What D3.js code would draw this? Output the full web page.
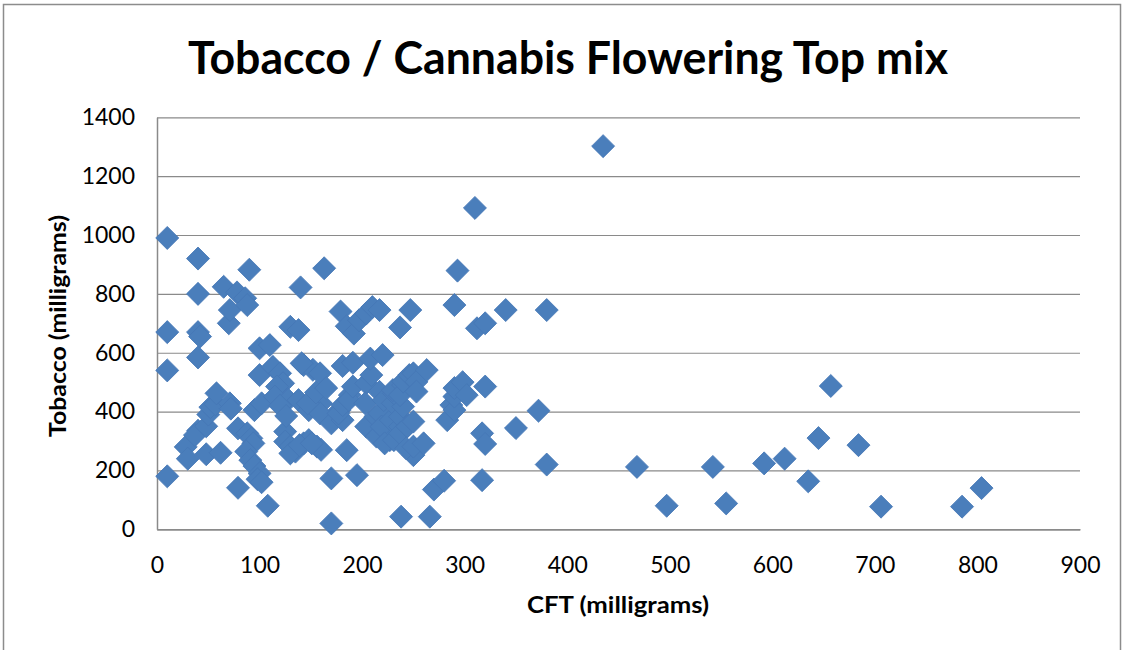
<!DOCTYPE html>
<html>
<head>
<meta charset="utf-8">
<script src="https://cdn.jsdelivr.net/npm/d3@7"></script>
<style>
  body { margin: 0; background: #fff; }
  text { font-family: Lato, "Open Sans", sans-serif; }
</style>
</head>
<body>
<script>
var width = 1129, height = 650;

// CFT (mg) on x, Tobacco (mg) on y
var cft = [
  10, 10, 10, 10, 28, 30, 40, 40, 40, 42, 40, 40, 37, 48, 50, 52, 57, 58, 48, 62,
  65, 70, 71, 78, 86, 88, 90, 71, 72, 79, 88, 92, 94, 87, 91, 95, 100, 98, 102, 79,
  95, 102, 108, 100, 110, 100, 113, 120, 123, 117, 115, 128, 125, 125, 135, 130, 130, 143, 138, 148,
  148, 139, 143, 152, 130, 138, 140, 120, 156, 160, 151, 159, 160, 159, 147, 163, 141, 155, 165, 170,
  178, 181, 177, 181, 188, 187, 185, 170, 195, 170, 181, 191, 191, 204, 209, 204, 214, 227, 203, 213,
  217, 219, 217, 221, 208, 220, 222, 228, 231, 237, 230, 237, 237, 244, 250, 240, 231, 230, 240, 237,
  240, 246, 250, 253, 263, 253, 250, 243, 250, 260, 238, 266, 270, 280, 237, 247, 290, 293, 310, 435,
  283, 287, 290, 290, 290, 298, 302, 320, 317, 320, 317, 312, 320, 340, 380, 372, 350, 380, 468, 497,
  542, 555, 592, 612, 635, 645, 657, 684, 706, 785, 804, 179, 185, 192, 197, 204, 210, 217, 126
];
var tobacco = [
  990, 670, 540, 180, 280, 240, 920, 800, 670, 655, 584, 335, 320, 350, 390, 415, 425, 462, 255, 260,
  824, 700, 745, 805, 785, 762, 882, 428, 410, 343, 326, 309, 292, 264, 235, 215, 190, 170, 160, 141,
  405, 428, 80, 615, 626, 524, 552, 530, 496, 485, 451, 440, 332, 298, 264, 281, 258, 292, 439, 405,
  303, 286, 558, 542, 688, 677, 822, 420, 281, 270, 292, 530, 428, 394, 428, 887, 564, 465, 480, 360,
  405, 371, 394, 422, 456, 439, 269, 173, 184, 20, 555, 566, 485, 496, 524, 349, 315, 303, 428, 383,
  394, 349, 467, 439, 580, 592, 292, 371, 303, 349, 428, 383, 326, 349, 366, 417, 462, 473, 490, 456,
  502, 524, 530, 501, 541, 468, 252, 275, 281, 292, 43, 43, 135, 165, 686, 745, 762, 879, 1092, 1302,
  371, 422, 405, 451, 480, 500, 456, 485, 326, 290, 167, 683, 700, 745, 745, 403, 344, 220, 212, 80,
  212, 88, 224, 240, 163, 310, 487, 286, 77, 77, 140, 740, 690, 665, 710, 733, 755, 745, 385
];

var xTicks = [0, 100, 200, 300, 400, 500, 600, 700, 800, 900];
var yTicks = [0, 200, 400, 600, 800, 1000, 1200, 1400];

var plotLeft = 157, plotRight = 1080, plotTop = 117.3, plotBottom = 529.3;

var svg = d3.select("body").append("svg")
    .attr("width", width)
    .attr("height", height);

// outer chart frame
svg.append("rect")
    .attr("x", 3.5).attr("y", 4.5)
    .attr("width", 1117).attr("height", 700)
    .attr("fill", "#fff")
    .attr("stroke", "#8c8c8c")
    .attr("stroke-width", 1.5);

var xScale = d3.scaleLinear().domain([0, 900]).range([plotLeft, plotRight]);
var yScale = d3.scaleLinear().domain([0, 1400]).range([plotBottom, plotTop]);

// horizontal gridlines
svg.append("g")
    .attr("transform", "translate(" + plotLeft + ",0)")
    .call(d3.axisLeft(yScale).tickValues(yTicks).tickSize(-(plotRight - plotLeft)).tickFormat(""))
    .call(function(g) {
        g.select(".domain").remove();
        g.selectAll("line").attr("stroke", "#8a8a8a").attr("stroke-width", 1.2);
    });

// y axis labels
svg.append("g")
    .attr("transform", "translate(" + plotLeft + ",0)")
    .call(d3.axisLeft(yScale).tickValues(yTicks).tickSize(0).tickPadding(22).tickFormat(d3.format("d")))
    .call(function(g) {
        g.select(".domain").attr("stroke", "#8a8a8a").attr("stroke-width", 1.5);
        g.selectAll("text").attr("font-size", 23).attr("fill", "#000")
            .style("font-family", "Lato, sans-serif");
    });

// x axis labels
svg.append("g")
    .attr("transform", "translate(0," + plotBottom + ")")
    .call(d3.axisBottom(xScale).tickValues(xTicks).tickSize(0).tickPadding(27).tickFormat(d3.format("d")))
    .call(function(g) {
        g.select(".domain").attr("stroke", "#8a8a8a").attr("stroke-width", 1.5);
        g.selectAll("text").attr("font-size", 23).attr("fill", "#000")
            .style("font-family", "Lato, sans-serif");
    });

// points
var pts = cft.map(function(d, i) { return {x: d, y: tobacco[i]}; });
var diamond = d3.symbol().type(d3.symbolSquare).size(265);

svg.append("g").selectAll("path")
    .data(pts)
    .join("path")
    .attr("d", diamond)
    .attr("transform", function(d) {
        return "translate(" + xScale(d.x) + "," + yScale(d.y) + ") rotate(45)";
    })
    .attr("fill", "#4a7ebb")
    .attr("stroke", "#4677b6")
    .attr("stroke-width", 0.8);

// title
svg.append("text")
    .attr("x", 568).attr("y", 74)
    .attr("text-anchor", "middle")
    .attr("font-size", 45)
    .attr("font-weight", "bold")
    .attr("textLength", 760)
    .attr("lengthAdjust", "spacingAndGlyphs")
    .text("Tobacco / Cannabis Flowering Top mix");

// axis titles
svg.append("text")
    .attr("x", 618).attr("y", 613)
    .attr("text-anchor", "middle")
    .attr("font-size", 23)
    .attr("font-weight", "bold")
    .attr("textLength", 182)
    .attr("lengthAdjust", "spacingAndGlyphs")
    .text("CFT (milligrams)");

svg.append("text")
    .attr("transform", "translate(66,326) rotate(-90)")
    .attr("text-anchor", "middle")
    .attr("font-size", 23)
    .attr("font-weight", "bold")
    .attr("textLength", 222)
    .attr("lengthAdjust", "spacingAndGlyphs")
    .text("Tobacco (milligrams)");
</script>
</body>
</html>
